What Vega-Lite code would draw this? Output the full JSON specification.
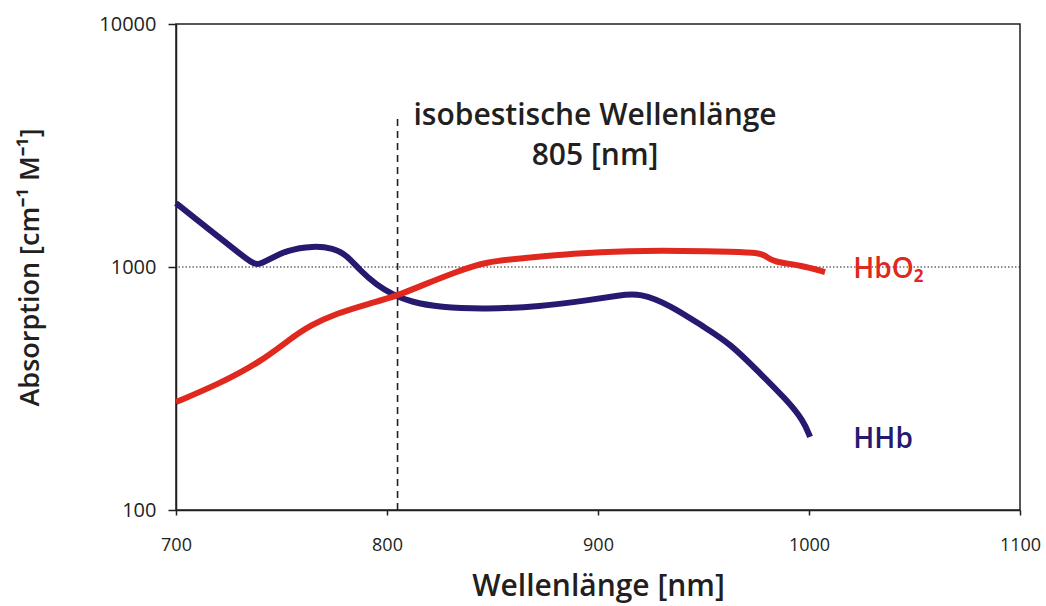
{
  "$schema": "https://vega.github.io/schema/vega-lite/v6.json",
  "autosize": {"type": "none"},
  "width": 844,
  "height": 486,
  "padding": {"left": 176, "top": 24, "right": 26, "bottom": 96},
  "background": "white",
  "config": {
    "view": {"stroke": "#231f20", "strokeWidth": 1.5},
    "font": "Open Sans"
  },
  "datasets": {
    "curves": [
      {"wl": 700, "abs": 1833, "s": "HHb"},
      {"wl": 710, "abs": 1563, "s": "HHb"},
      {"wl": 720, "abs": 1334, "s": "HHb"},
      {"wl": 730, "abs": 1138, "s": "HHb"},
      {"wl": 736, "abs": 1040, "s": "HHb"},
      {"wl": 739, "abs": 1020, "s": "HHb"},
      {"wl": 743, "abs": 1060, "s": "HHb"},
      {"wl": 752.5, "abs": 1175, "s": "HHb"},
      {"wl": 765, "abs": 1222, "s": "HHb"},
      {"wl": 774.5, "abs": 1196, "s": "HHb"},
      {"wl": 781, "abs": 1119, "s": "HHb"},
      {"wl": 787, "abs": 972, "s": "HHb"},
      {"wl": 795, "abs": 844, "s": "HHb"},
      {"wl": 803, "abs": 767, "s": "HHb"},
      {"wl": 811, "abs": 720, "s": "HHb"},
      {"wl": 825, "abs": 682, "s": "HHb"},
      {"wl": 847, "abs": 671, "s": "HHb"},
      {"wl": 872.5, "abs": 687, "s": "HHb"},
      {"wl": 896, "abs": 731, "s": "HHb"},
      {"wl": 910, "abs": 765, "s": "HHb"},
      {"wl": 920, "abs": 782, "s": "HHb"},
      {"wl": 934, "abs": 698, "s": "HHb"},
      {"wl": 950, "abs": 568, "s": "HHb"},
      {"wl": 962.6, "abs": 485, "s": "HHb"},
      {"wl": 976.8, "abs": 365, "s": "HHb"},
      {"wl": 989.4, "abs": 284, "s": "HHb"},
      {"wl": 997.3, "abs": 234, "s": "HHb"},
      {"wl": 1000.5, "abs": 200, "s": "HHb"},
      {"wl": 1000.5, "abs": 200, "s": "HHb"},
      {"wl": 700, "abs": 278, "s": "HbO2"},
      {"wl": 700, "abs": 278, "s": "HbO2"},
      {"wl": 721, "abs": 332, "s": "HbO2"},
      {"wl": 740, "abs": 407, "s": "HbO2"},
      {"wl": 754, "abs": 505, "s": "HbO2"},
      {"wl": 763.5, "abs": 575, "s": "HbO2"},
      {"wl": 776, "abs": 644, "s": "HbO2"},
      {"wl": 792, "abs": 709, "s": "HbO2"},
      {"wl": 804.6, "abs": 760, "s": "HbO2"},
      {"wl": 817, "abs": 843, "s": "HbO2"},
      {"wl": 833, "abs": 957, "s": "HbO2"},
      {"wl": 847, "abs": 1052, "s": "HbO2"},
      {"wl": 864.6, "abs": 1086, "s": "HbO2"},
      {"wl": 888, "abs": 1138, "s": "HbO2"},
      {"wl": 915, "abs": 1166, "s": "HbO2"},
      {"wl": 940, "abs": 1166, "s": "HbO2"},
      {"wl": 964, "abs": 1155, "s": "HbO2"},
      {"wl": 977, "abs": 1142, "s": "HbO2"},
      {"wl": 979.5, "abs": 1110, "s": "HbO2"},
      {"wl": 983, "abs": 1049, "s": "HbO2"},
      {"wl": 996, "abs": 1018, "s": "HbO2"},
      {"wl": 1007.6, "abs": 953, "s": "HbO2"},
      {"wl": 1007.6, "abs": 953, "s": "HbO2"}
    ],
    "labels": [
      {"wl": 1021, "abs": 973, "s": "HbO2", "t": "HbO₂"},
      {"wl": 1021, "abs": 194, "s": "HHb", "t": "HHb"}
    ],
    "notes": [
      {"wl": 898.6, "abs": 4180, "t": "isobestische Wellenlänge"},
      {"wl": 898.6, "abs": 2865, "t": "805 [nm]"}
    ]
  },
  "layer": [
    {
      "data": {"values": [{"y": 1000}]},
      "mark": {"type": "rule", "color": "#231f20", "strokeWidth": 1.2, "strokeDash": [1.5, 2]},
      "encoding": {
        "y": {"field": "y", "type": "quantitative", "scale": {"type": "log", "domain": [100, 10000], "nice": false}}
      }
    },
    {
      "data": {"values": [{"x": 805, "y1": 100, "y2": 4227}]},
      "mark": {"type": "rule", "color": "#231f20", "strokeWidth": 1.6, "strokeDash": [7, 5]},
      "encoding": {
        "x": {"field": "x", "type": "quantitative"},
        "y": {"field": "y1", "type": "quantitative"},
        "y2": {"field": "y2"}
      }
    },
    {
      "data": {"name": "curves"},
      "mark": {"type": "line", "strokeWidth": 6, "interpolate": "basis", "strokeCap": "butt"},
      "encoding": {
        "x": {
          "field": "wl", "type": "quantitative",
          "scale": {"domain": [700, 1100], "nice": false, "zero": false},
          "axis": {
            "values": [700, 800, 900, 1000, 1100],
            "format": "d",
            "labelFlush": false,
            "title": "Wellenlänge [nm]",
            "grid": false,
            "domainColor": "#231f20", "domainWidth": 1.5,
            "tickColor": "#231f20", "tickSize": 5, "tickWidth": 1.5,
            "labelFontSize": 18, "labelColor": "#231f20", "labelPadding": 21, "labelFont": "Open Sans",
            "titleFontSize": 30, "titleFontWeight": 600, "titleColor": "#231f20", "titleFont": "Open Sans",
            "titleBaseline": "middle", "titleY": 76
          }
        },
        "y": {
          "field": "abs", "type": "quantitative",
          "scale": {"type": "log", "domain": [100, 10000], "nice": false},
          "axis": {
            "values": [100, 1000, 10000],
            "format": "d",
            "labelFlush": false,
            "title": "Absorption [cm⁻¹ M⁻¹]",
            "grid": false,
            "domainColor": "#231f20", "domainWidth": 1.5,
            "tickColor": "#231f20", "tickSize": 8, "tickWidth": 1.5,
            "labelFontSize": 20, "labelColor": "#231f20", "labelPadding": 12, "labelFont": "Open Sans",
            "titleFontSize": 27, "titleFontWeight": 600, "titleColor": "#231f20", "titleFont": "Open Sans",
            "titleAngle": -90, "titleBaseline": "middle", "titleAlign": "center", "titleX": -146, "titleY": 243
          }
        },
        "color": {
          "field": "s", "type": "nominal",
          "scale": {"domain": ["HbO2", "HHb"], "range": ["#e0281e", "#261970"]},
          "legend": null
        },
        "detail": {"field": "s"}
      }
    },
    {
      "data": {"name": "labels"},
      "mark": {"type": "text", "align": "left", "baseline": "middle", "fontSize": 28, "fontWeight": 600, "font": "Open Sans"},
      "encoding": {
        "x": {"field": "wl", "type": "quantitative"},
        "y": {"field": "abs", "type": "quantitative"},
        "text": {"field": "t"},
        "color": {"field": "s", "type": "nominal", "legend": null}
      }
    },
    {
      "data": {"name": "notes"},
      "mark": {"type": "text", "align": "center", "baseline": "middle", "fontSize": 30, "fontWeight": 600, "font": "Open Sans", "color": "#231f20"},
      "encoding": {
        "x": {"field": "wl", "type": "quantitative"},
        "y": {"field": "abs", "type": "quantitative"},
        "text": {"field": "t"}
      }
    }
  ]
}
